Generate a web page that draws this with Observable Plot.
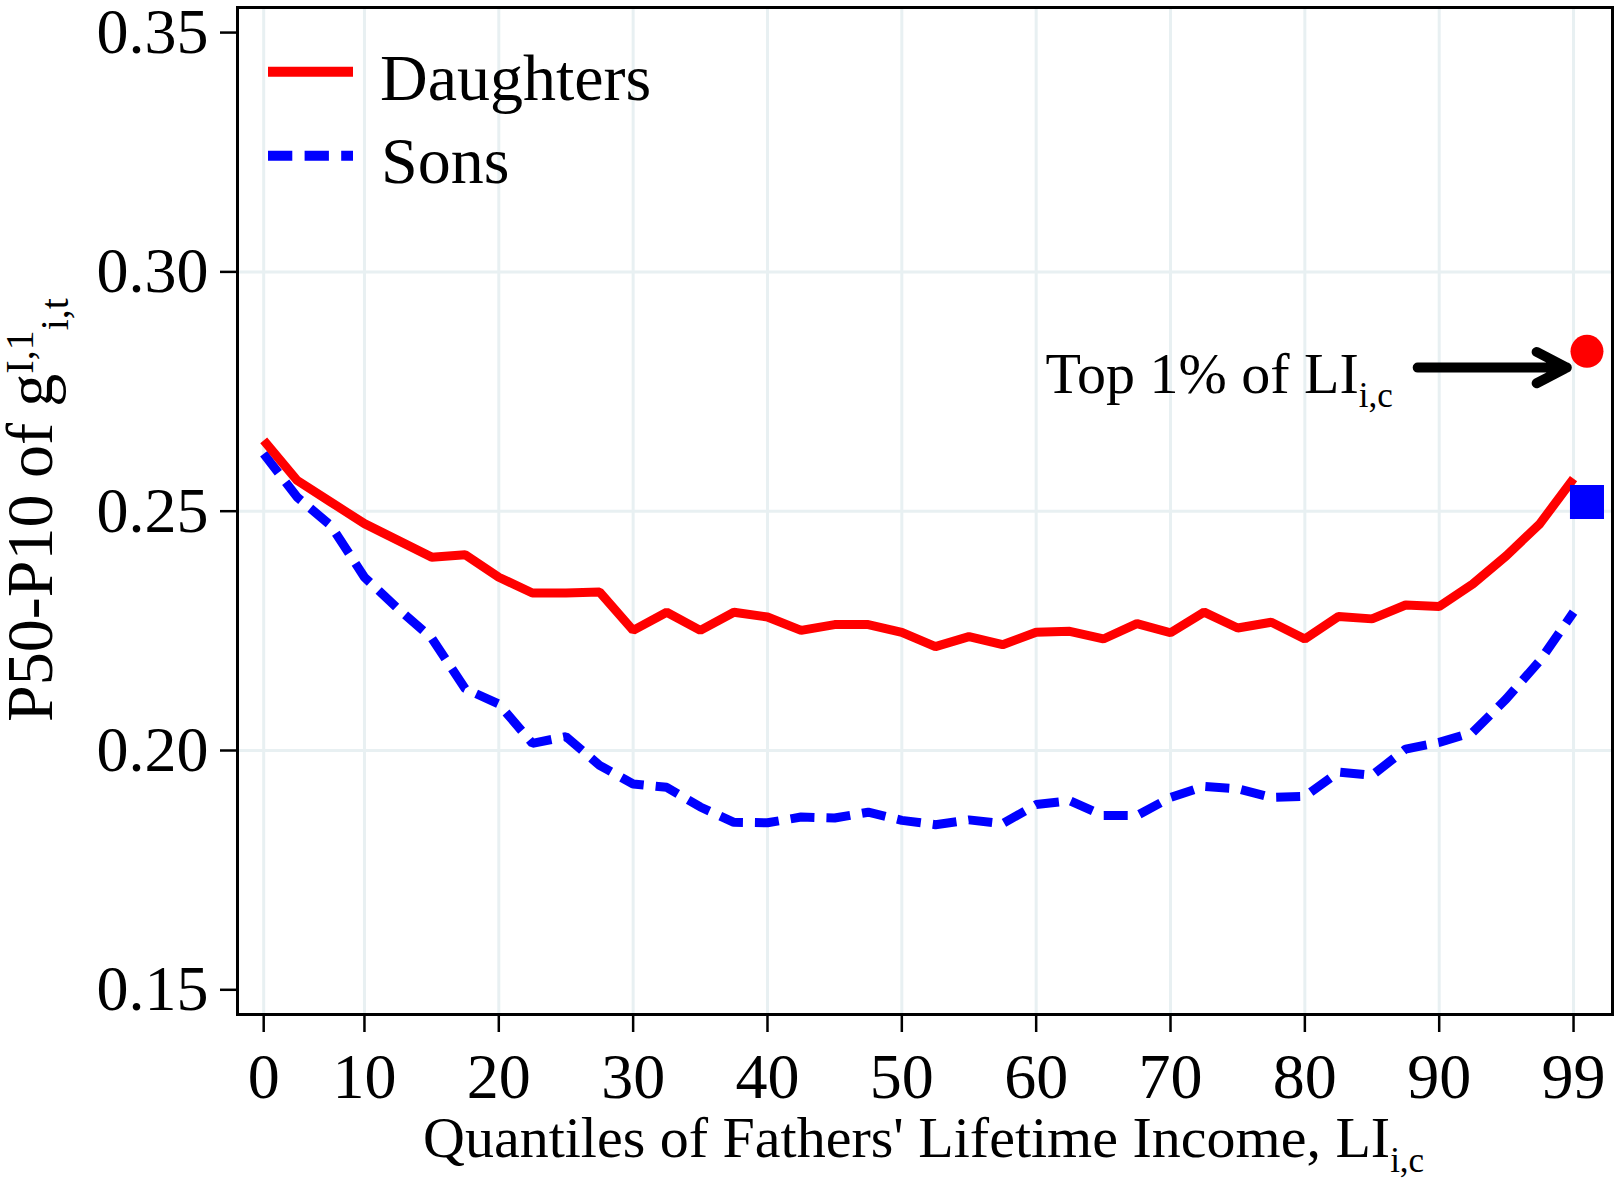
<!DOCTYPE html>
<html><head><meta charset="utf-8">
<script src="https://cdn.jsdelivr.net/npm/d3@7"></script>
<script src="https://cdn.jsdelivr.net/npm/@observablehq/plot@0.6"></script>
<style>
html,body{margin:0;padding:0;background:#fff;}
#chart svg{display:block;}
</style></head><body><div id="chart"></div>
<script>
// ---- data ----
const quantiles = [2.5, 5, 7.5, 10, 12.5, 15, 17.5, 20, 22.5, 25, 27.5, 30, 32.5, 35, 37.5, 40, 42.5, 45, 47.5, 50,
                   52.5, 55, 57.5, 60, 62.5, 65, 67.5, 70, 72.5, 75, 77.5, 80, 82.5, 85, 87.5, 90, 92.5, 95, 97.5, 100];
const daughters = [0.2648, 0.2564, 0.2519, 0.2474, 0.2439, 0.2404, 0.2409, 0.2362, 0.2329, 0.2329,
                   0.2331, 0.2251, 0.2289, 0.2251, 0.2289, 0.2279, 0.2251, 0.2263, 0.2263, 0.2247,
                   0.2217, 0.2238, 0.2221, 0.2247, 0.2249, 0.2233, 0.2265, 0.2246, 0.2289, 0.2256,
                   0.2268, 0.2233, 0.2280, 0.2275, 0.2304, 0.2301, 0.2348, 0.2407, 0.2474, 0.2568];
const sons = [0.2620, 0.2529, 0.2470, 0.2362, 0.2296, 0.2235, 0.2129, 0.2097, 0.2015, 0.2029,
              0.1969, 0.1930, 0.1923, 0.1882, 0.1850, 0.1849, 0.1861, 0.1859, 0.1871, 0.1854,
              0.1845, 0.1855, 0.1847, 0.1887, 0.1895, 0.1864, 0.1864, 0.1902, 0.1925, 0.1920,
              0.1902, 0.1904, 0.1955, 0.1948, 0.2003, 0.2017, 0.2038, 0.2108, 0.2188, 0.2289];
const top1X = [101.0];
const top1Daughters = [0.2834];
const top1Sons = [0.2519];
const seriesNames = ["Daughters", "Sons"];
const xTicks = [2.5, 10, 20, 30, 40, 50, 60, 70, 80, 90, 100];
const xTickLabels = ["0", "10", "20", "30", "40", "50", "60", "70", "80", "90", "99"];
const yTicks = [0.15, 0.20, 0.25, 0.30, 0.35];
const yGrid = [0.20, 0.25, 0.30];
const annotText = ["Top 1% of LI"];
const annotSub = ["i,c"];
const annotX = [60.7];
const annotY = [0.2746];
const arrowX1 = [88.4];
const arrowX2 = [99.5];
const arrowY = [0.2800];
const xLabel = "Quantiles of Fathers' Lifetime Income, LI";
const xLabelSub = "i,c";
const yLabel = "P50-P10 of g";
const yLabelSup = "I,1";
const yLabelSub = "i,t";

// ---- build ----
const FONT = "'Liberation Serif', 'Times New Roman', serif";
const RED = "#ff0000", BLUE = "#0000ff", GRID = "#e8f0f2";
const dRows = quantiles.map((q, i) => ({q, v: daughters[i]}));
const sRows = quantiles.map((q, i) => ({q, v: sons[i]}));
const topRows = top1X.map((x, i) => ({x, d: top1Daughters[i], s: top1Sons[i]}));
const annRows = annotText.map((t, i) => ({t, x: annotX[i], y: annotY[i]}));
const arrRows = arrowX1.map((x1, i) => ({x1, x2: arrowX2[i], y: arrowY[i]}));

const plot = Plot.plot({
  width: 1620, height: 1183,
  marginLeft: 237, marginRight: 8, marginTop: 7, marginBottom: 169,
  style: {fontFamily: FONT, fontSize: "64px", background: "#fff", color: "#000"},
  x: {domain: [0.55, 102.9], ticks: xTicks, tickFormat: d => xTickLabels[xTicks.indexOf(d)],
      tickSize: 18, tickPadding: 20, label: null},
  y: {domain: [0.14484, 0.35524], ticks: yTicks, tickFormat: d3.format(".2f"),
      tickSize: 17, tickPadding: 12, label: null},
  marks: [
    Plot.ruleX(xTicks, {x: d => d, stroke: GRID, strokeWidth: 3}),
    Plot.ruleY(yGrid, {y: d => d, stroke: GRID, strokeWidth: 3}),
    Plot.line(sRows, {x: "q", y: "v", stroke: BLUE, strokeWidth: 9, strokeDasharray: "24,12",
      strokeLinecap: "butt", strokeLinejoin: "miter"}),
    Plot.line(dRows, {x: "q", y: "v", stroke: RED, strokeWidth: 9,
      strokeLinecap: "butt", strokeLinejoin: "miter"}),
    Plot.dot(topRows, {x: "x", y: "d", r: 16.5, fill: RED, stroke: null, symbol: "circle"}),
    Plot.dot(topRows, {x: "x", y: "s", r: 19.2, fill: BLUE, stroke: null, symbol: "square"}),
    Plot.arrow(arrRows, {x1: "x1", y1: "y", x2: "x2", y2: "y", stroke: "#000", strokeWidth: 10,
      headLength: 5.1, headAngle: 55}),
    Plot.text(annRows, {x: "x", y: "y", text: "t", textAnchor: "start", lineAnchor: "bottom",
      fontSize: 58, fill: "#000"}),
    Plot.frame({stroke: "#000", strokeWidth: 3})
  ]
});
document.getElementById("chart").appendChild(plot);

const svg = d3.select(plot);
svg.selectAll('[aria-label*="axis"] line, [aria-label*="axis"] path').attr("stroke-width", 2.5);

// annotation subscript
svg.selectAll("text").filter(function() { return this.textContent === annotText[0]; })
  .each(function() {
    const t = d3.select(this);
    t.append("tspan").attr("font-size", 35).attr("dy", 14).text(annotSub[0]);
  });

// legend
const leg = svg.append("g").attr("font-family", FONT).attr("font-size", 66).attr("text-anchor", "start");
leg.append("line").attr("x1", 268).attr("x2", 353).attr("y1", 71.7).attr("y2", 71.7)
  .attr("stroke", RED).attr("stroke-width", 10);
leg.append("text").attr("x", 380).attr("y", 100).text(seriesNames[0]);
leg.append("line").attr("x1", 268).attr("x2", 353).attr("y1", 155.7).attr("y2", 155.7)
  .attr("stroke", BLUE).attr("stroke-width", 10).attr("stroke-dasharray", "24.3,12.3");
leg.append("text").attr("x", 381).attr("y", 183.3).text(seriesNames[1]);

// axis titles
const xt = svg.append("text").attr("font-family", FONT).attr("font-size", 58).attr("text-anchor", "start")
  .attr("x", 423).attr("y", 1157).text(xLabel);
xt.append("tspan").attr("font-size", 35).attr("dy", 15).text(xLabelSub);

const yt = svg.append("text").attr("font-family", FONT).attr("font-size", 66).attr("text-anchor", "start")
  .attr("transform", "rotate(-90)").attr("x", -722).attr("y", 51.7).text(yLabel);
yt.append("tspan").attr("font-size", 40).attr("dy", -19).text(yLabelSup);
yt.append("tspan").attr("font-size", 40).attr("dy", 35).text(yLabelSub);
</script></body></html>
